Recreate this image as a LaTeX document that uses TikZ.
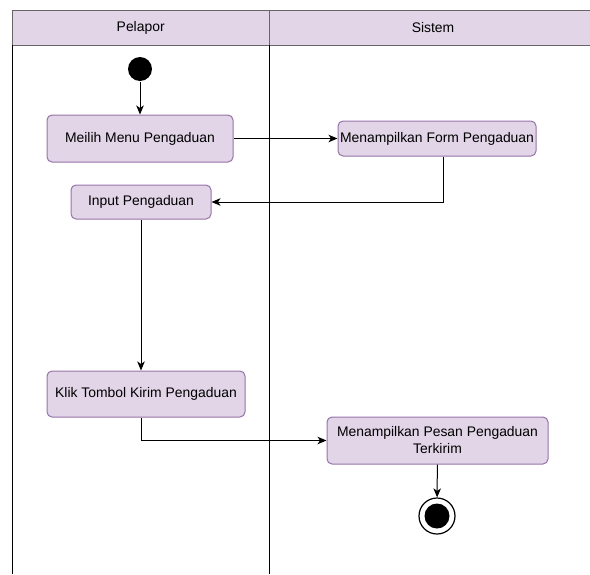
\documentclass[tikz,border=0pt]{standalone}
\usepackage{fontspec}
\setmainfont{Liberation Sans}
\usetikzlibrary{arrows.meta, positioning, calc}
\definecolor{cfill}{HTML}{E1D5E7}
\definecolor{cedge}{HTML}{9673A6}
\definecolor{chead}{HTML}{666666}
\tikzset{
  every picture/.style={line width=1pt, x=1pt, y=-1pt},
  act/.style={draw=cedge, fill=cfill, rounded corners=5pt, align=center, inner sep=0pt, font=\fontsize{13.9}{17}\selectfont},
  flow/.style={-{Stealth[length=9pt, width=7.5pt, inset=2.5pt]}, draw=black},
  lane/.style={draw=black, line width=1pt},
  head/.style={font=\fontsize{13.9}{17}\selectfont},
}
\begin{document}
\begin{tikzpicture}
  \useasboundingbox (0,0) rectangle (590,574);
  % swimlanes
  \fill[cfill] (12.5,10) rectangle (590,45);
  \draw[chead] (590,10) -- (12.5,10) -- (12.5,45) -- (590,45);
  \draw[chead] (269,10) -- (269,45);
  \draw[lane] (12.5,45) -- (12.5,574);
  \draw[lane] (269,45) -- (269,574);
  \node[head] (lp) at (140.7,28) {Pelapor};
  \node[head] (ls) at (433,28) {Sistem};
  % nodes
  \node[circle, fill=black, inner sep=0pt, minimum size=24pt] (start) at (140,69) {};
  \node[act, minimum width=186pt, minimum height=47pt] (meilih) at (140,138.5) {Meilih Menu Pengaduan};
  \node[act, minimum width=198pt, minimum height=35pt] (form) at (437,138.5) {Menampilkan Form Pengaduan};
  \node[act, minimum width=140pt, minimum height=34pt] (input) at (141,202) {Input Pengaduan};
  \node[act, minimum width=198pt, minimum height=46pt] (klik) at (146,394) {Klik Tombol Kirim Pengaduan};
  \node[act, minimum width=221pt, minimum height=47pt] (pesan) at (437.5,440.5) {Menampilkan Pesan Pengaduan\\Terkirim};
  \node[circle, draw=black, line width=1.2pt, fill=white, minimum size=36pt, inner sep=0pt] (end) at (437,516) {};
  \fill[black] (end.center) circle (12.5pt);
  % flows
  \draw[flow] (start) -- (meilih);
  \draw[flow] (meilih.east) -- (form.west);
  \draw[flow] ([xshift=6pt]form.south) |- (input.east);
  \draw[flow] (input.south) -- (input.south |- klik.north);
  \draw[flow] (input.south |- klik.south) |- (pesan.west);
  \draw[flow] (pesan) -- (end);
\end{tikzpicture}
\end{document}
